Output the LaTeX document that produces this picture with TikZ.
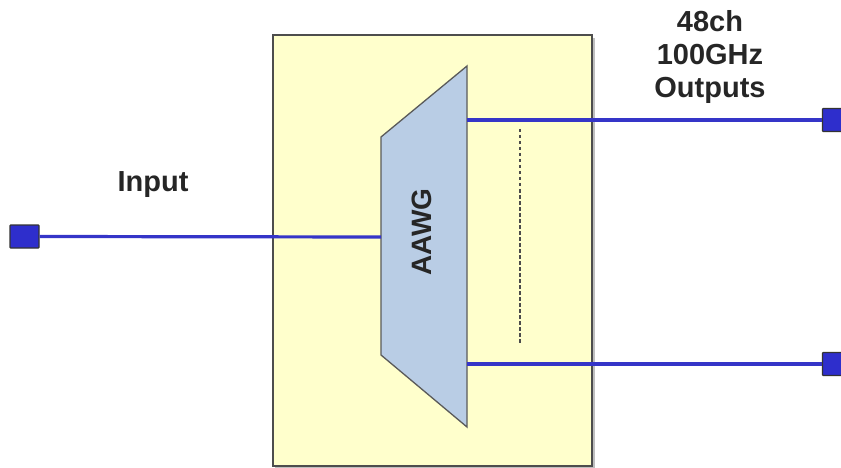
\documentclass[tikz,border=0pt]{standalone}
\usepackage{fontspec}
\setmainfont{Liberation Sans}
\usetikzlibrary{calc}
\definecolor{boxfill}{HTML}{FFFFCC}
\definecolor{boxedge}{HTML}{4D4D4D}
\definecolor{awgfill}{HTML}{B9CDE5}
\definecolor{awgedge}{HTML}{5A5A5A}
\definecolor{fibre}{HTML}{3535C8}
\definecolor{portfill}{HTML}{2E2ECC}
\tikzset{
  port/.style={draw=black!80, line width=1.2pt, fill=portfill, minimum width=29pt,
    minimum height=23pt, inner sep=0pt, rounded corners=0.8pt},
  fibreline/.style={draw=fibre, line width=3.2pt},
  lbl/.style={font=\bfseries\fontsize{29}{33}\selectfont, text=black!85, align=center, inner sep=0pt},
}
\begin{document}
\begin{tikzpicture}[x=1pt,y=-1pt]
  \useasboundingbox (0,0) rectangle (841,468);
  % chip outline with a soft shadow
  \fill[black!25] (275,38) rectangle (595,470);
  \draw[boxedge, line width=2.2pt, fill=boxfill] (273,35) rectangle (592,466);
  % AWG trapezoid
  \coordinate (tl) at (381,137);
  \coordinate (tr) at (467,66);
  \coordinate (br) at (467,427);
  \coordinate (bl) at (381,355);
  \draw[awgedge, line width=1.3pt, fill=awgfill, line join=miter] (tl) -- (tr) -- (br) -- (bl) -- cycle;
  \node[lbl, rotate=90, font=\bfseries\fontsize{28}{30}\selectfont] (awg) at (422,232) {AAWG};
  % ports
  \node[port] (in) at (24.5,236.5) {};
  \node[port] (out1) at (837,120) {};
  \node[port] (out2) at (837,364) {};
  % fibre attach points on the AWG
  \coordinate (awgin) at (381,237);
  \coordinate (awgo1) at (467,120);
  \coordinate (awgo2) at (467,364);
  \draw[fibreline] (in.east) -- (awgin);
  \draw[fibreline] (awgo1) -- (out1.west);
  \draw[fibreline] (awgo2) -- (out2.west);
  % remaining channels
  \coordinate (d1) at (520,129);
  \coordinate (d2) at (520,343);
  \draw[black!70, line width=2.6pt, dash pattern=on 3.5pt off 2.5pt] (d1) -- (d2);
  % labels
  \node[lbl, anchor=base] (inlbl) at (153,192) {Input};
  \node[lbl, anchor=north] (outlbl) at (710,10) {48ch\\100GHz\\Outputs};
\end{tikzpicture}
\end{document}
